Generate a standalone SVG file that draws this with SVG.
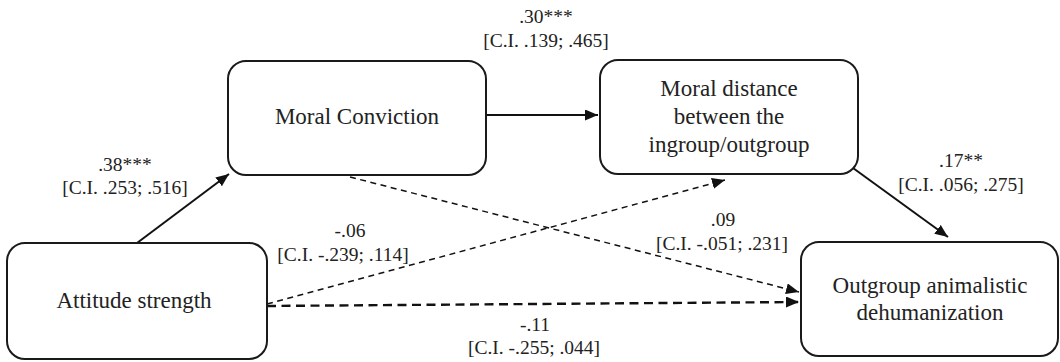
<svg xmlns="http://www.w3.org/2000/svg" width="1060" height="362" viewBox="0 0 1060 362">
<defs>
<marker id="ah" markerUnits="userSpaceOnUse" markerWidth="14" markerHeight="12" refX="13" refY="5.5" orient="auto" viewBox="0 0 14 12">
<path d="M0,0 L13,5.5 L0,11 z" fill="#111"/>
</marker>
<style>
.node rect{fill:#fff;stroke:#1a1a1a;stroke-width:2}
.nt{font-family:"Liberation Serif","Times New Roman",serif;font-size:23px;fill:#222;text-anchor:middle}
.lb{font-family:"Liberation Serif","Times New Roman",serif;font-size:19.5px;fill:#222;text-anchor:middle}
.solid{stroke:#111;stroke-width:2;fill:none}
.dash{stroke:#111;stroke-width:1.5;fill:none;stroke-dasharray:6,4.5}
.dashb{stroke:#111;stroke-width:2.4;fill:none;stroke-dasharray:9,5.5}
</style>
</defs>
<rect width="1060" height="362" fill="#fff"/>
<g id="connectors">
<line class="solid" x1="137" y1="243" x2="229" y2="174" marker-end="url(#ah)"/>
<line class="solid" x1="486" y1="115" x2="598" y2="115" marker-end="url(#ah)"/>
<line class="solid" x1="853" y1="168" x2="948" y2="237" marker-end="url(#ah)"/>
<line class="dash" x1="350" y1="177" x2="799" y2="292" marker-end="url(#ah)"/>
<line class="dash" x1="267" y1="304" x2="725" y2="180" marker-end="url(#ah)"/>
<line class="dashb" x1="267" y1="306" x2="799" y2="302" marker-end="url(#ah)"/>
</g>
<g id="labels">
<text class="lb" x="546" y="23">.30***</text>
<text class="lb" x="546" y="47">[C.I. .139; .465]</text>
<text class="lb" x="125" y="171">.38***</text>
<text class="lb" x="125" y="194">[C.I. .253; .516]</text>
<text class="lb" x="961" y="167">.17**</text>
<text class="lb" x="961" y="191">[C.I. .056; .275]</text>
<text class="lb" x="350" y="237">-.06</text>
<text class="lb" x="343" y="261">[C.I. -.239; .114]</text>
<text class="lb" x="723" y="226">.09</text>
<text class="lb" x="722" y="250">[C.I. -.051; .231]</text>
<text class="lb" x="535" y="331">-.11</text>
<text class="lb" x="534" y="354">[C.I. -.255; .044]</text>
</g>
<g id="node-moral-conviction" class="node">
<rect x="228" y="61" width="258" height="114" rx="18"/>
<text class="nt" x="357" y="124">Moral Conviction</text>
</g>
<g id="node-moral-distance" class="node">
<rect x="600" y="60" width="258" height="114" rx="18"/>
<text class="nt" x="729" y="96">Moral distance</text>
<text class="nt" x="729" y="124">between the</text>
<text class="nt" x="729" y="152">ingroup/outgroup</text>
</g>
<g id="node-attitude-strength" class="node">
<rect x="7" y="243" width="260" height="116" rx="18"/>
<text class="nt" x="134" y="308">Attitude strength</text>
</g>
<g id="node-outgroup" class="node">
<rect x="801" y="242" width="257" height="114" rx="18"/>
<text class="nt" x="930" y="293">Outgroup animalistic</text>
<text class="nt" x="930" y="320">dehumanization</text>
</g>
</svg>
